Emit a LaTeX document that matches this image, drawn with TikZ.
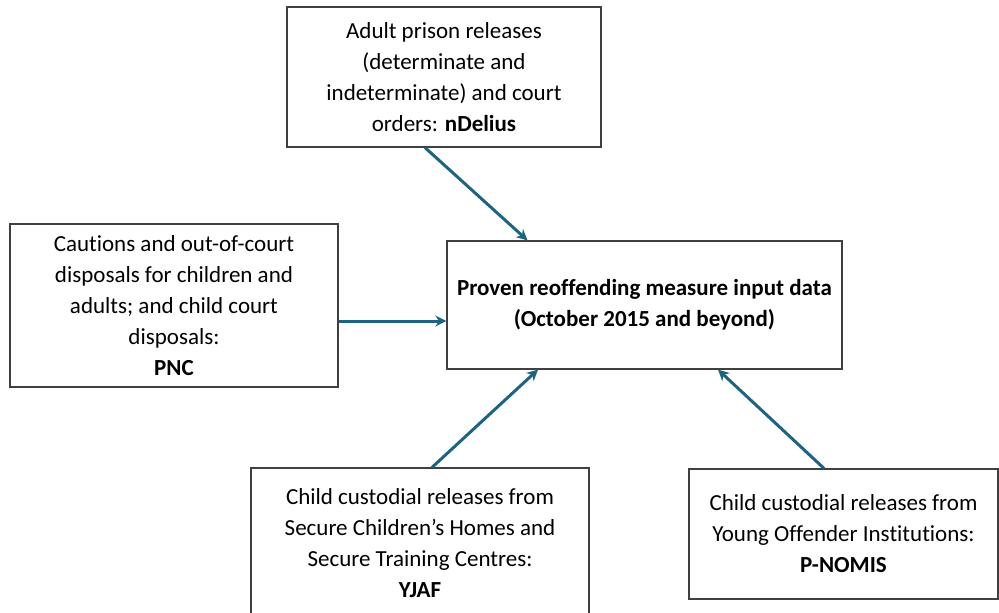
\documentclass[tikz,border=0pt]{standalone}
\usepackage{fontspec}
\setmainfont{Carlito}[Ligatures=NoCommon]
\usetikzlibrary{arrows.meta, calc}
\definecolor{arrowblue}{HTML}{1F6382}

\begin{document}
\begin{tikzpicture}[>={Stealth[length=11pt, width=11pt]}, x=1pt, y=-1pt,
	box/.style={draw=black!75, line width=1.2pt, fill=white, align=center, inner sep=0pt,
		font=\fontsize{23}{31}\selectfont},
	link/.style={->, line width=3pt, draw=arrowblue}]
			\useasboundingbox (0,0) rectangle (999,613);
			
			% Central measure
			\node[box, minimum width=395, minimum height=128] (Measure) at (644.5,305)
				{\textbf{Proven reoffending measure input data}\\\textbf{(October 2015 and beyond)}};
			
			% Data sources
			\node[box, minimum width=314, minimum height=140] (Adult) at (444,77)
				{Adult prison releases\\(determinate and\\indeterminate) and court\\orders: \textbf{nDelius}};
			\node[box, minimum width=328, minimum height=163] (Cautions) at (174,305.5)
				{Cautions and out-of-court\\disposals for children and\\adults; and child court\\disposals:\\\textbf{PNC}};
			\node[box, minimum width=338, minimum height=150] (Secure) at (420,543)
				{Child custodial releases from\\Secure Children’s Homes and\\Secure Training Centres:\\\textbf{YJAF}};
			\node[box, minimum width=309, minimum height=130] (YOI) at (843.5,534)
				{Child custodial releases from\\Young Offender Institutions:\\\textbf{P-NOMIS}};
			
			% Arrows into the measure
			\draw[link] ($(Adult.south)+(-19,0)$) -- ($(Measure.north)+(-117,0)$);
			\draw[link] ($(Cautions.east)+(0,15.5)$) -- ($(Measure.west)+(0,16)$);
			\draw[link] ($(Secure.north)+(12,0)$) -- ($(Measure.south)+(-106.5,0)$);
			\draw[link] ($(YOI.north)+(-19.5,0)$) -- ($(Measure.south)+(73.5,0)$);
			
\end{tikzpicture}
\end{document}
